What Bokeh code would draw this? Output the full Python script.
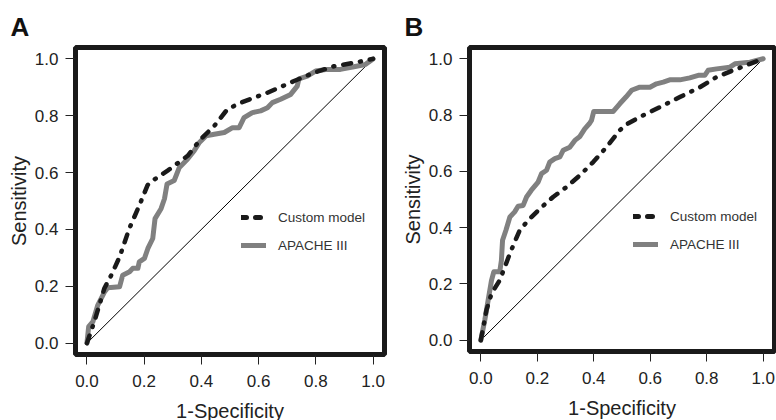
from bokeh.plotting import figure
from bokeh.layouts import row
from bokeh.models import Range1d, FixedTicker, Legend, LegendItem, NumeralTickFormatter
from bokeh.embed import file_html
from bokeh.resources import INLINE

# ---- data ----
ticks = [0.0, 0.2, 0.4, 0.6, 0.8, 1.0]
series_names = ["Custom model", "APACHE III"]
panel_letters = ["A", "B"]
x_label = "1-Specificity"
y_label = "Sensitivity"

a_custom_x = [0.0, 0.026, 0.061, 0.085, 0.114, 0.148, 0.183, 0.212, 0.230, 0.282, 0.352,
              0.398, 0.445, 0.491, 0.538, 0.631, 0.724, 0.793, 0.863, 0.933, 1.0]
a_custom_y = [0.0, 0.076, 0.193, 0.239, 0.303, 0.403, 0.484, 0.556, 0.572, 0.607, 0.659,
              0.718, 0.764, 0.823, 0.846, 0.881, 0.922, 0.951, 0.974, 0.986, 1.0]

a_apache_x = [0.0, 0.006, 0.021, 0.038, 0.062, 0.073, 0.114, 0.125, 0.149, 0.160, 0.178,
              0.183, 0.201, 0.213, 0.230, 0.238, 0.259, 0.271, 0.280, 0.305, 0.323, 0.352,
              0.375, 0.393, 0.416, 0.445, 0.480, 0.509, 0.532, 0.549, 0.578, 0.607, 0.631,
              0.648, 0.677, 0.712, 0.735, 0.741, 0.770, 0.799, 0.840, 0.886, 0.933, 0.973, 1.0]
a_apache_y = [0.0, 0.058, 0.076, 0.134, 0.181, 0.195, 0.198, 0.239, 0.251, 0.263, 0.263,
              0.286, 0.298, 0.333, 0.368, 0.438, 0.473, 0.508, 0.560, 0.572, 0.618, 0.648,
              0.677, 0.706, 0.729, 0.735, 0.741, 0.758, 0.758, 0.793, 0.811, 0.817, 0.828,
              0.846, 0.858, 0.875, 0.904, 0.930, 0.939, 0.957, 0.963, 0.963, 0.972, 0.980, 1.0]

b_custom_x = [0.0, 0.008, 0.020, 0.038, 0.067, 0.085, 0.103, 0.120, 0.138, 0.168, 0.209,
              0.256, 0.303, 0.351, 0.398, 0.445, 0.492, 0.516, 0.563, 0.634, 0.705, 0.776,
              0.835, 0.894, 0.953, 1.0]
b_custom_y = [0.0, 0.041, 0.107, 0.166, 0.213, 0.260, 0.308, 0.349, 0.391, 0.426, 0.467,
              0.509, 0.544, 0.586, 0.633, 0.686, 0.746, 0.767, 0.793, 0.828, 0.864, 0.899,
              0.935, 0.959, 0.982, 1.0]

b_apache_x = [0.0, 0.014, 0.026, 0.038, 0.046, 0.067, 0.073, 0.077, 0.089, 0.103, 0.120,
              0.132, 0.150, 0.162, 0.179, 0.203, 0.215, 0.233, 0.244, 0.262, 0.280, 0.292,
              0.315, 0.333, 0.351, 0.368, 0.384, 0.392, 0.400, 0.433, 0.469, 0.492, 0.514,
              0.534, 0.563, 0.599, 0.622, 0.646, 0.669, 0.705, 0.740, 0.770, 0.793, 0.805,
              0.835, 0.882, 0.900, 0.953, 1.0]
b_apache_y = [0.0, 0.071, 0.142, 0.213, 0.243, 0.243, 0.284, 0.355, 0.391, 0.438, 0.456,
              0.476, 0.479, 0.509, 0.533, 0.562, 0.592, 0.604, 0.633, 0.645, 0.651, 0.675,
              0.686, 0.710, 0.724, 0.751, 0.769, 0.781, 0.813, 0.813, 0.813, 0.840, 0.864,
              0.888, 0.899, 0.899, 0.911, 0.917, 0.925, 0.925, 0.932, 0.941, 0.941, 0.959,
              0.964, 0.970, 0.982, 0.988, 1.0]

FONT = "Liberation Sans"
TXT = "#222222"
DARK = "#1a1a1a"
GRAY = "#808080"
NAN = float("nan")


def make_panel(letter, cx, cy, ax, ay, fw, fh, top, bottom, right, leg_xy):
    p = figure(output_backend="svg", toolbar_location=None,
               frame_width=fw, frame_height=fh,
               min_border_left=75, min_border_right=right,
               min_border_top=top, min_border_bottom=bottom,
               x_range=Range1d(-0.04, 1.04), y_range=Range1d(-0.04, 1.04),
               title=letter)
    p.title.text_font = FONT
    p.title.text_font_size = "26px"
    p.title.text_font_style = "bold"
    p.title.text_color = "#111111"
    p.title.align = "left"
    p.title.offset = -65
    p.title.standoff = 11

    p.grid.visible = False
    p.background_fill_color = "white"
    p.border_fill_color = "white"
    p.outline_line_color = DARK
    p.outline_line_width = 5

    for axis in (p.xaxis[0], p.yaxis[0]):
        axis.ticker = FixedTicker(ticks=ticks)
        axis.formatter = NumeralTickFormatter(format="0.0")
        axis.axis_line_color = None
        axis.major_tick_out = 10
        axis.major_tick_in = 0
        axis.minor_tick_out = 0
        axis.minor_tick_in = 0
        axis.major_tick_line_color = TXT
        axis.major_tick_line_width = 1
        axis.major_label_text_font = FONT
        axis.major_label_text_font_size = "17px"
        axis.major_label_text_color = TXT
        axis.axis_label_text_font = FONT
        axis.axis_label_text_font_size = "20px"
        axis.axis_label_text_font_style = "normal"
        axis.axis_label_text_color = TXT
    p.xaxis.axis_label = x_label
    p.yaxis.axis_label = y_label
    p.xaxis.major_label_standoff = 10
    p.yaxis.major_label_standoff = 7
    p.xaxis.axis_label_standoff = 10
    p.yaxis.axis_label_standoff = 2

    # reference diagonal
    p.line([0, 1], [0, 1], line_color="black", line_width=1)
    p.line(ax, ay, line_color=GRAY, line_width=5, line_join="round", line_cap="round")
    p.line(cx, cy, line_color=DARK, line_width=4.5, line_dash="8 9 1 9",
           line_cap="round", line_join="round")

    leg_c = p.line([NAN], [NAN], line_color=DARK, line_width=5, line_dash="5 9", line_cap="round")
    leg_a = p.line([NAN], [NAN], line_color=GRAY, line_width=5, line_cap="round")
    legend = Legend(items=[LegendItem(label=series_names[0], renderers=[leg_c]),
                           LegendItem(label=series_names[1], renderers=[leg_a])],
                    location=leg_xy, orientation="vertical",
                    border_line_color=None, background_fill_alpha=0,
                    padding=0, margin=0, spacing=8,
                    glyph_width=25, glyph_height=20, label_height=20,
                    label_standoff=12,
                    label_text_font=FONT, label_text_font_size="13.5px",
                    label_text_color="#333333")
    p.add_layout(legend)
    return p


pA = make_panel(panel_letters[0], a_custom_x, a_custom_y, a_apache_x, a_apache_y,
                fw=309, fh=307, top=45, bottom=68, right=10, leg_xy=(166, 99))
pB = make_panel(panel_letters[1], b_custom_x, b_custom_y, b_apache_x, b_apache_y,
                fw=305, fh=304, top=47, bottom=69, right=2, leg_xy=(164, 97))

layout = row(pA, pB)
open("out.html", "w").write(file_html(layout, INLINE))
